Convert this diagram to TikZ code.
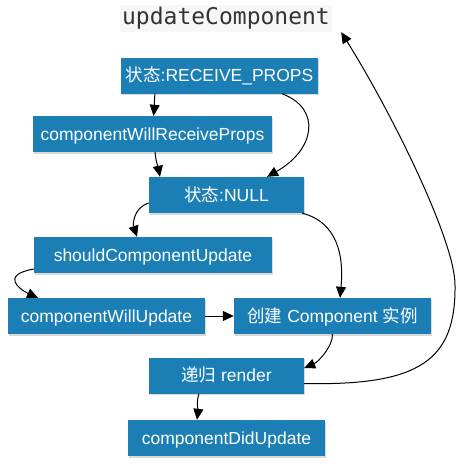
\documentclass[tikz,border=0pt]{standalone}
\usepackage{fontspec}
\newfontfamily\boxfont{Liberation Sans}
\newfontfamily\cjk{Noto Sans CJK SC}
\newfontfamily\monofont{DejaVu Sans Mono}
\usetikzlibrary{arrows.meta,shadows}
\definecolor{boxblue}{RGB}{27,127,181}
\definecolor{titlebg}{RGB}{247,247,247}
\definecolor{titletext}{RGB}{51,51,51}
\begin{document}
\begin{tikzpicture}[x=1pt,y=-1pt,
  stepbox/.style={fill=boxblue, text=white, inner sep=0pt, minimum height=36pt,
    font=\boxfont\fontsize{17.5}{20}\selectfont, text height=12.6pt, text depth=0pt,
    drop shadow={shadow xshift=1pt,shadow yshift=-1.5pt,opacity=0.3}},
  titlebox/.style={fill=titlebg, text=titletext, inner sep=0pt, minimum width=212pt,
    minimum height=27pt, font=\monofont\fontsize{23}{26}\selectfont},
  flow/.style={-{Triangle[length=11pt,width=10pt]}, line width=1pt, black},
]
\useasboundingbox (0,0) rectangle (461,466);
\node[titlebox] (title) at (226,18.5) {updateComponent};
\node[stepbox, minimum width=197pt] (b1) at (219.5,75.5) {{\cjk 状态}:RECEIVE\_PROPS};
\node[stepbox, minimum width=239pt] (b2) at (152.5,134) {componentWillReceiveProps};
\node[stepbox, minimum width=155pt] (b3) at (226.5,195) {{\cjk 状态}:NULL};
\node[stepbox, minimum width=238pt] (b4) at (153,255) {shouldComponentUpdate};
\node[stepbox, minimum width=197pt] (b5) at (106.5,316) {componentWillUpdate};
\node[stepbox, minimum width=197pt] (b6) at (332.5,316) {{\cjk 创建} Component {\cjk 实例}};
\node[stepbox, minimum width=155pt] (b7) at (226.5,375.5) {{\cjk 递归} render};
\node[stepbox, minimum width=197pt] (b8) at (226.5,438) {componentDidUpdate};
\coordinate (bend) at (455,285);

\draw[flow] ([xshift=-64.5pt]b1.south) .. controls +(-1,9) and +(1,-9) .. ([xshift=1pt]b2.north);
\draw[flow] ([xshift=62.5pt]b1.south) .. controls +(40,15) and +(48,-27) .. ([xshift=40.5pt]b3.north);
\draw[flow] ([xshift=2.5pt]b2.south) .. controls +(1,10) and +(-2,-10) .. ([xshift=-66.5pt]b3.north);
\draw[flow] ([yshift=-8pt]b3.west) .. controls +(-16,5) and +(-4,-12) .. ([xshift=-16pt]b4.north);
\draw[flow] ([yshift=-14pt]b4.west) .. controls +(-34,6) and +(-18,-8) .. ([xshift=-68.5pt]b5.north);
\draw[flow] (b5.east) -- (b6.west);
\draw[flow] ([xshift=-2pt]b3.south east) .. controls +(28,7) and +(5,-53) .. ([xshift=7.5pt]b6.north);
\draw[flow] (b6.south) .. controls +(0.5,12) and +(14,-6) .. ([yshift=7.5pt]b7.east);
\draw[flow] ([yshift=-8pt]b7.east) .. controls +(116,2.5) and +(1,75) .. (bend)
  .. controls +(0,-45) and +(49,78) .. ([xshift=9pt]title.south east);
\draw[flow] ([xshift=-27.5pt]b7.south) .. controls +(-3,8) and +(1,-8) .. ([xshift=-29.5pt]b8.north);
\end{tikzpicture}
\end{document}
